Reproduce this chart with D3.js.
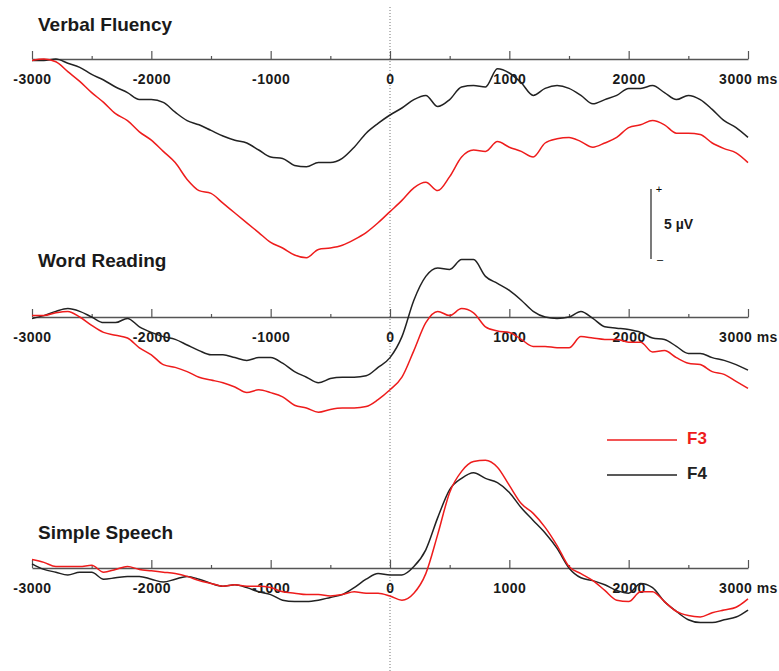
<!DOCTYPE html>
<html>
<head>
<meta charset="utf-8">
<script src="https://cdn.jsdelivr.net/npm/d3@7"></script>
<style>
  body { margin: 0; background: #fff; }
  text { font-family: "Liberation Sans", Arial, sans-serif; font-weight: bold; }
</style>
</head>
<body>
<div id="chart"></div>
<script>
// time points (ms), one value every 100 ms
var times = d3.range(-3000, 3001, 100);

var panelNames = ["Verbal Fluency", "Word Reading", "Simple Speech"];
var channels = ["F3", "F4"];
var majorTicks = [-3000, -2000, -1000, 0, 1000, 2000, 3000];
var minorTicks = [-2500, -1500, -500, 500, 1500, 2500];

// amplitudes in microvolts (positive up)
var verbalF3 = [-0.1, 0.0, -0.2, -0.9, -1.6, -2.4, -3.1, -3.9, -4.4, -5.2, -5.8, -6.6, -7.4, -8.6, -9.4, -9.6,
  -10.3, -11.0, -11.7, -12.4, -13.1, -13.5, -14.0, -14.2, -13.6, -13.5, -13.3, -12.9, -12.4, -11.7, -10.9,
  -10.1, -9.2, -8.8, -9.4, -8.4, -7.0, -6.5, -6.6, -5.9, -6.3, -6.6, -7.0, -6.0, -5.7, -5.6, -5.9, -6.3,
  -6.0, -5.6, -4.9, -4.7, -4.4, -4.7, -5.3, -5.3, -5.4, -6.0, -6.4, -6.7, -7.4];
var verbalF4 = [-0.1, -0.1, 0.0, -0.3, -0.6, -1.1, -1.5, -2.0, -2.4, -2.9, -2.9, -3.1, -3.8, -4.4, -4.7, -5.1,
  -5.5, -5.8, -6.0, -6.5, -7.0, -7.1, -7.6, -7.7, -7.4, -7.4, -7.1, -6.3, -5.3, -4.6, -4.0,
  -3.5, -2.9, -2.6, -3.4, -2.9, -2.0, -1.9, -2.0, -0.7, -1.0, -1.7, -2.6, -2.1, -1.9, -2.1, -2.6, -3.2,
  -2.9, -2.6, -2.1, -2.1, -1.9, -2.4, -2.9, -2.6, -2.9, -3.6, -4.4, -4.9, -5.6];

var readingF3 = [0.1, 0.1, 0.3, 0.4, 0.0, -0.6, -1.1, -1.3, -1.5, -2.2, -2.7, -3.4, -3.6, -3.9, -4.3, -4.5,
  -4.7, -5.0, -5.4, -5.2, -5.4, -5.7, -6.3, -6.5, -6.8, -6.6, -6.5, -6.5, -6.4, -5.9, -5.2,
  -4.3, -2.4, -0.4, 0.4, 0.1, 0.6, 0.3, -0.7, -1.0, -1.1, -1.6, -2.1, -2.1, -2.2, -2.2, -1.4, -1.5,
  -1.6, -1.6, -1.8, -1.8, -2.5, -2.4, -2.9, -3.3, -3.4, -3.9, -4.1, -4.6, -5.1];
var readingF4 = [-0.1, 0.1, 0.4, 0.6, 0.4, 0.0, -0.4, -0.4, -0.1, -0.7, -1.1, -1.4, -1.6, -2.0, -2.4, -2.7,
  -2.7, -2.9, -3.1, -2.9, -2.9, -3.3, -3.9, -4.3, -4.7, -4.4, -4.3, -4.3, -4.2, -3.6, -2.9,
  -1.4, 1.2, 2.9, 3.5, 3.4, 4.1, 4.1, 2.9, 2.4, 1.9, 1.2, 0.4, 0.0, -0.1, 0.0, 0.4, -0.1,
  -0.7, -0.8, -0.9, -1.1, -1.5, -1.6, -2.1, -2.6, -2.6, -2.9, -3.1, -3.4, -3.8];

var speechF3 = [0.6, 0.4, 0.1, 0.1, 0.1, 0.2, -0.3, -0.1, 0.1, -0.1, -0.2, -0.3, -0.4, -0.6, -0.9, -1.1,
  -1.3, -1.2, -1.3, -1.3, -1.4, -1.7, -1.8, -1.9, -1.9, -2.0, -1.9, -1.7, -1.8, -1.8, -2.0,
  -2.3, -1.8, -0.4, 2.4, 5.4, 6.9, 7.6, 7.7, 7.2, 5.9, 4.6, 3.9, 2.9, 1.6, 0.1, -0.4, -0.9,
  -1.6, -2.3, -2.4, -1.7, -1.7, -2.4, -3.1, -3.4, -3.5, -3.2, -3.0, -2.8, -2.2];
var speechF4 = [0.3, -0.1, -0.3, -0.5, -0.3, -0.3, -0.8, -0.7, -0.6, -0.6, -0.8, -1.0, -0.8, -0.6, -0.8, -1.1,
  -1.3, -1.2, -1.4, -1.7, -1.9, -2.3, -2.4, -2.4, -2.3, -2.1, -1.9, -1.4, -0.8, -0.4, -0.5,
  -0.5, 0.1, 1.3, 3.6, 5.6, 6.4, 6.8, 6.4, 6.1, 5.4, 4.3, 3.4, 2.5, 1.4, 0.0, -0.7, -0.9,
  -1.2, -1.6, -1.8, -1.1, -1.4, -2.4, -3.1, -3.7, -3.9, -3.9, -3.7, -3.5, -3.0];

var panelSeries = [[verbalF3, verbalF4], [readingF3, readingF4], [speechF3, speechF4]];
var colors = ["#ee1c1c", "#222222"];

var width = 779, height = 671;
var pxPerUV = 14;
var axisY = [59, 317, 568];
var titleY = [31, 267, 539];

var svg = d3.select("#chart").append("svg")
    .attr("width", width)
    .attr("height", height);

var x = d3.scaleLinear().domain([-3000, 3000]).range([32, 748]);

// stimulus onset marker
svg.append("line")
    .attr("x1", x(0)).attr("x2", x(0))
    .attr("y1", 7).attr("y2", height)
    .attr("stroke", "#777")
    .attr("stroke-width", 1)
    .attr("stroke-dasharray", "1,2");

panelNames.forEach(function (name, i) {
    var y = d3.scaleLinear().domain([0, 1]).range([axisY[i], axisY[i] - pxPerUV]);
    var g = svg.append("g");

    g.append("text")
        .attr("x", 38).attr("y", titleY[i])
        .style("font-size", "19px")
        .attr("fill", "#1a1a1a")
        .text(name);

    // major ticks + labels
    var ax = g.append("g")
        .attr("transform", "translate(0," + axisY[i] + ")")
        .call(d3.axisBottom(x)
            .tickValues(majorTicks)
            .tickSizeInner(-8)
            .tickSizeOuter(0)
            .tickPadding(15)
            .tickFormat(function (d) { return d === 3000 ? "3000 ms" : d; }));
    ax.select(".domain").attr("stroke", "#555").attr("stroke-width", 1.6);
    ax.selectAll(".tick line").attr("stroke", "#555").attr("stroke-width", 1.2);
    ax.selectAll(".tick text")
        .attr("fill", "#1a1a1a")
        .style("font-size", "14px")
        .style("letter-spacing", "0.5px")
        .style("font-family", "'Liberation Sans', Arial, sans-serif")
        .style("font-weight", "bold");

    // minor ticks
    var mx = g.append("g")
        .attr("transform", "translate(0," + axisY[i] + ")")
        .call(d3.axisBottom(x)
            .tickValues(minorTicks)
            .tickSizeInner(-3)
            .tickSizeOuter(0)
            .tickFormat(""));
    mx.select(".domain").remove();
    mx.selectAll(".tick line").attr("stroke", "#555").attr("stroke-width", 1.2);

    var line = d3.line()
        .x(function (d, j) { return x(times[j]); })
        .y(function (d) { return y(d); })
        .curve(d3.curveMonotoneX);

    // F4 first, F3 over it
    [1, 0].forEach(function (k) {
        g.append("path")
            .datum(panelSeries[i][k])
            .attr("d", line)
            .attr("fill", "none")
            .attr("stroke", colors[k])
            .attr("stroke-width", 1.5);
    });
});

// scale bar (5 µV)
var sb = svg.append("g");
var sbY = d3.scaleLinear().domain([0, 5]).range([259, 259 - 5 * pxPerUV]);
sb.append("line")
    .attr("x1", 651).attr("x2", 651)
    .attr("y1", sbY(0)).attr("y2", sbY(5))
    .attr("stroke", "#222").attr("stroke-width", 1.2);
sb.append("text").attr("x", 659).attr("y", sbY(5) + 4)
    .attr("text-anchor", "middle").style("font-size", "11px").style("font-weight", "normal").text("+");
sb.append("text").attr("x", 660).attr("y", sbY(0) + 4)
    .attr("text-anchor", "middle").style("font-size", "11px").style("font-weight", "normal").text("\u2013");
sb.append("text").attr("x", 664).attr("y", 225)
    .attr("dominant-baseline", "middle")
    .style("font-size", "14px").attr("fill", "#1a1a1a")
    .text("5 \u00b5V");

// legend
var legend = svg.append("g");
channels.forEach(function (c, k) {
    var ly = 440 + k * 35;
    legend.append("line")
        .attr("x1", 607).attr("x2", 677)
        .attr("y1", ly).attr("y2", ly)
        .attr("stroke", colors[k]).attr("stroke-width", 1.5);
    legend.append("text")
        .attr("x", 687).attr("y", ly)
        .attr("dominant-baseline", "middle")
        .style("font-size", "17px")
        .attr("fill", colors[k])
        .text(c);
});
</script>
</body>
</html>
